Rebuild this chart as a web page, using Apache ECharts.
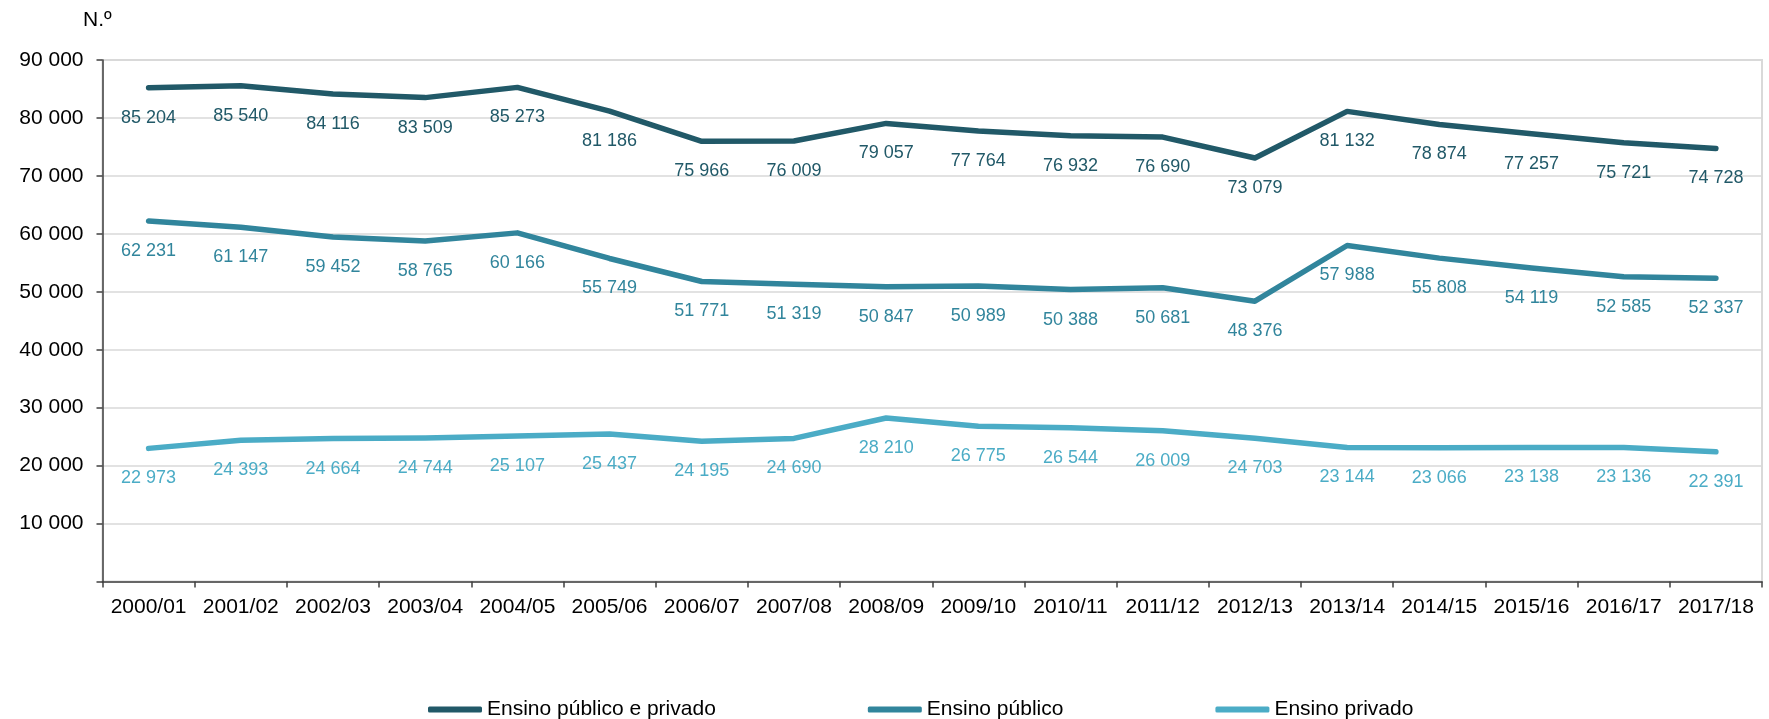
<!DOCTYPE html>
<html>
<head>
<meta charset="utf-8">
<script src="https://cdn.jsdelivr.net/npm/echarts@6/dist/echarts.min.js"></script>
<style>
html,body{margin:0;padding:0;background:#fff;}
#chart{width:1769px;height:719px;}
</style>
</head>
<body>
<div id="chart"></div>
<script>
const categories = ['2000/01','2001/02','2002/03','2003/04','2004/05','2005/06','2006/07','2007/08','2008/09','2009/10','2010/11','2011/12','2012/13','2013/14','2014/15','2015/16','2016/17','2017/18'];
const totalValues = [85204,85540,84116,83509,85273,81186,75966,76009,79057,77764,76932,76690,73079,81132,78874,77257,75721,74728];
const publicValues = [62231,61147,59452,58765,60166,55749,51771,51319,50847,50989,50388,50681,48376,57988,55808,54119,52585,52337];
const privateValues = [22973,24393,24664,24744,25107,25437,24195,24690,28210,26775,26544,26009,24703,23144,23066,23138,23136,22391];
const seriesNames = ['Ensino público e privado','Ensino público','Ensino privado'];
const yTicks = {min:0, max:90000, interval:10000};
const yUnit = 'N.º';

const FONT = '"Liberation Sans", Arial, Helvetica, sans-serif';
const colors = ['#215968','#31859C','#4BACC6'];
function fmt(v){ return String(Math.round(v)).replace(/\B(?=(\d{3})+(?!\d))/g,' '); }

function mkSeries(name, data, color){
  return {
    name: name, type:'line', data: data,
    showSymbol:true, symbol:'circle', symbolSize:0.01, smooth:false,
    lineStyle:{color:color, width:5.5, cap:'round', join:'round'},
    itemStyle:{color:color},
    label:{show:true, position:'bottom', distance:21, color:color, fontSize:18, fontFamily:FONT,
      formatter:p=>fmt(p.value)},
    labelLayout:{hideOverlap:false},
    emphasis:{disabled:true}
  };
}

const chart = echarts.init(document.getElementById('chart'), null, {renderer:'canvas'});
chart.setOption({
  animation:false,
  color: colors,
  textStyle:{fontFamily:FONT},
  grid:{left:102.5, right:7, top:60, bottom:137.5, containLabel:false,
    show:true, borderColor:'#d9d9d9', borderWidth:2},
  graphic:[{type:'text', left:83, top:10, style:{text:yUnit, fontSize:21, fontFamily:FONT, fill:'#000'}}],
  legend:{
    left:423, top:694, itemGap:152, itemWidth:54, itemHeight:6, icon:'roundRect',
    textStyle:{fontSize:21, color:'#000', fontFamily:FONT},
    data: seriesNames.map((n,i)=>({name:n, itemStyle:{color:colors[i]}}))
  },
  xAxis:{
    type:'category', data:categories, boundaryGap:true,
    axisLine:{lineStyle:{color:'#404040', width:1.5}},
    axisTick:{show:true, interval:0, length:6, lineStyle:{color:'#404040', width:1.5}},
    axisLabel:{interval:0, margin:15, fontSize:21, color:'#000', fontFamily:FONT},
    splitLine:{show:false}
  },
  yAxis:{
    type:'value', min:yTicks.min, max:yTicks.max, interval:yTicks.interval,
    axisLine:{show:true, lineStyle:{color:'#404040', width:1.5}},
    axisTick:{show:true, length:6, lineStyle:{color:'#404040', width:1.5}},
    axisLabel:{margin:19, fontSize:21, color:'#000', fontFamily:FONT,
      formatter:v=> v===0 ? '' : fmt(v)},
    splitLine:{show:true, lineStyle:{color:'#d9d9d9', width:1.5}}
  },
  series:[
    mkSeries(seriesNames[0], totalValues, colors[0]),
    mkSeries(seriesNames[1], publicValues, colors[1]),
    mkSeries(seriesNames[2], privateValues, colors[2])
  ]
});
</script>
</body>
</html>
